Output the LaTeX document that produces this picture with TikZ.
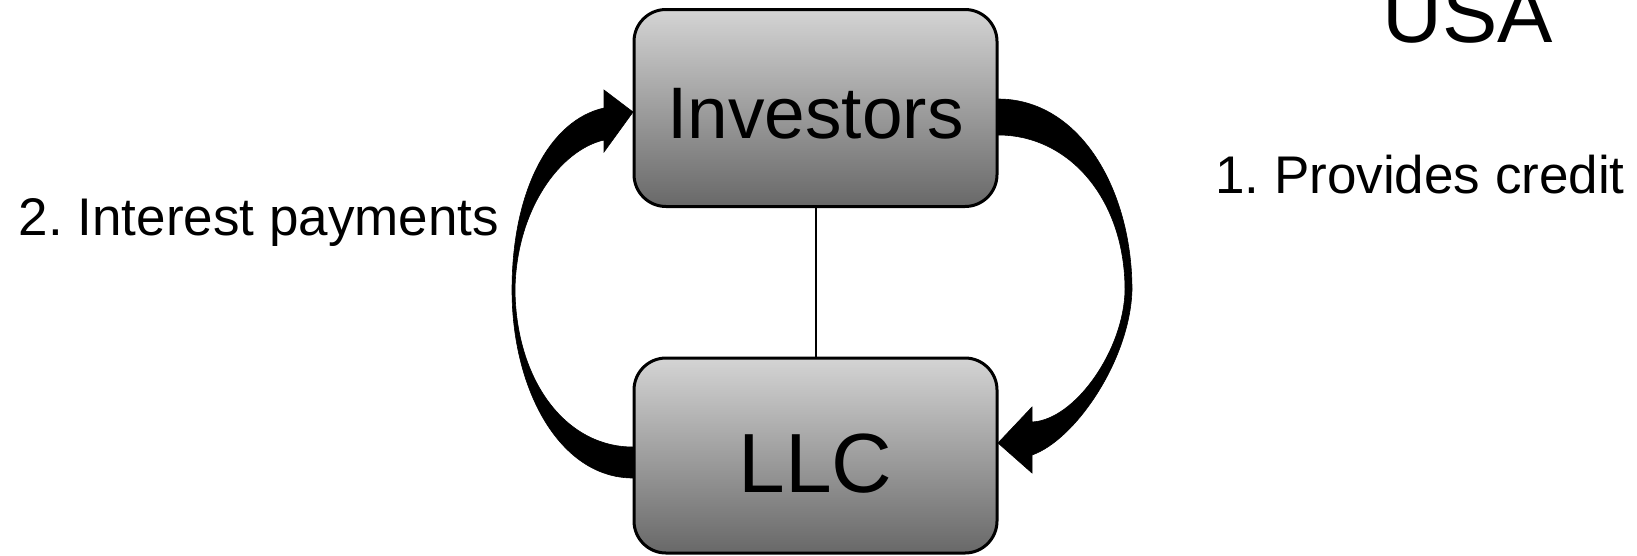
\documentclass[tikz,border=0pt]{standalone}
\usepackage{fontspec}
\setmainfont{Liberation Sans}
\frenchspacing
\definecolor{boxtop}{HTML}{D4D4D4}
\definecolor{boxbot}{HTML}{686868}
\tikzset{
  bbox/.style={draw=black, line width=3pt, rounded corners=32pt,
    top color=boxtop, bottom color=boxbot,
    minimum width=363pt, inner sep=0pt, text depth=0pt},
  barrow/.style={fill=black, draw=black, line width=0.6pt, line join=miter},
  lbl/.style={inner sep=0pt, anchor=base}
}
\begin{document}
\begin{tikzpicture}[x=1pt,y=-1pt]
\useasboundingbox (0,0) rectangle (1637,555);
% curved block arrows (drawn below the boxes)
\path[barrow] (633,478) .. controls (560,478) and (512,390) .. (512,290)
  .. controls (512,190) and (550,120) .. (604,108)
  -- (604,90) -- (633,112) -- (604,152) -- (604,140)
  .. controls (560,150) and (516,210) .. (515,290)
  .. controls (516,380) and (565,447) .. (633,447) -- cycle;
\path[barrow] (998,99) .. controls (1080,99) and (1132,190) .. (1132,290)
  .. controls (1130,360) and (1075,440) .. (1032,455)
  -- (1032,473) -- (998,443) -- (1032,407) -- (1032,422)
  .. controls (1075,420) and (1124,350) .. (1125,290)
  .. controls (1125,200) and (1070,135) .. (998,135) -- cycle;
% boxes
\node[bbox, minimum height=197pt, text height=60pt,
  font=\fontsize{73}{80}\selectfont] (inv) at (815.5,108) {Investors};
\node[bbox, minimum height=195pt, text height=73pt,
  font=\fontsize{84}{90}\selectfont] (llc) at (815.5,455.5) {LLC};
\draw[line width=2pt] (inv.south) -- (llc.north);
% labels
\node[lbl, font=\fontsize{83}{90}\selectfont] (usa) at (1468,42) {USA};
\node[lbl, font=\fontsize{53}{60}\selectfont] (credit) at (1420,193) {1. Provides credit};
\node[lbl, font=\fontsize{53}{60}\selectfont] (interest) at (259,235) {2. Interest payments};
\end{tikzpicture}
\end{document}
